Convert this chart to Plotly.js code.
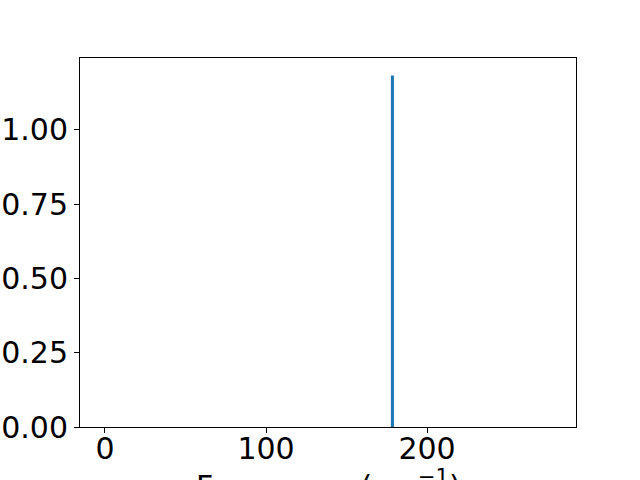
<!DOCTYPE html>
<html>
<head>
<meta charset="utf-8">
<script src="https://cdn.plot.ly/plotly-3.0.1.min.js"></script>
<style>html,body{margin:0;padding:0;background:#fff;}#chart{width:640px;height:480px;}</style>
</head>
<body>
<div id="chart"></div>
<script>
const frequencies = [178.5];
const intensities = [1.183];
const xTickVals = [0, 100, 200];
const yTickVals = [0, 0.25, 0.5, 0.75, 1.0];
const xTitle = 'Frequency (cm<sup>−1</sup>)';

const font = {family: 'DejaVu Sans', size: 30, color: '#000'};

const data = [{
  type: 'bar',
  x: frequencies,
  y: intensities,
  width: 1.9,
  marker: {color: '#1f77b4', line: {width: 0}},
  hoverinfo: 'x+y'
}];

const layout = {
  width: 640,
  height: 480,
  margin: {l: 80, r: 64, t: 58, b: 53},
  paper_bgcolor: '#fff',
  plot_bgcolor: '#fff',
  showlegend: false,
  font: font,
  xaxis: {
    range: [-15.5, 292.5],
    tickvals: xTickVals,
    ticktext: xTickVals.map(String),
    ticks: 'outside', ticklen: 5, tickwidth: 1, tickcolor: '#000',
    ticklabelstandoff: -10,
    showline: true, linecolor: '#000', linewidth: 1, mirror: true,
    showgrid: false, zeroline: false,
    tickfont: font,
    automargin: false
  },
  yaxis: {
    range: [0, 1.242],
    tickvals: yTickVals,
    ticktext: yTickVals.map(v => v.toFixed(2)),
    ticks: 'outside', ticklen: 5, tickwidth: 1, tickcolor: '#000',
    showline: true, linecolor: '#000', linewidth: 1, mirror: true,
    showgrid: false, zeroline: false,
    tickfont: font,
    automargin: false
  },
  annotations: [{
    text: xTitle,
    xref: 'paper', yref: 'paper',
    x: 0.5, y: -0.098,
    xanchor: 'center', yanchor: 'top',
    showarrow: false,
    font: {family: 'DejaVu Sans', size: 30, color: '#000'}
  }]
};

Plotly.newPlot('chart', data, layout, {staticPlot: true});
</script>
</body>
</html>
